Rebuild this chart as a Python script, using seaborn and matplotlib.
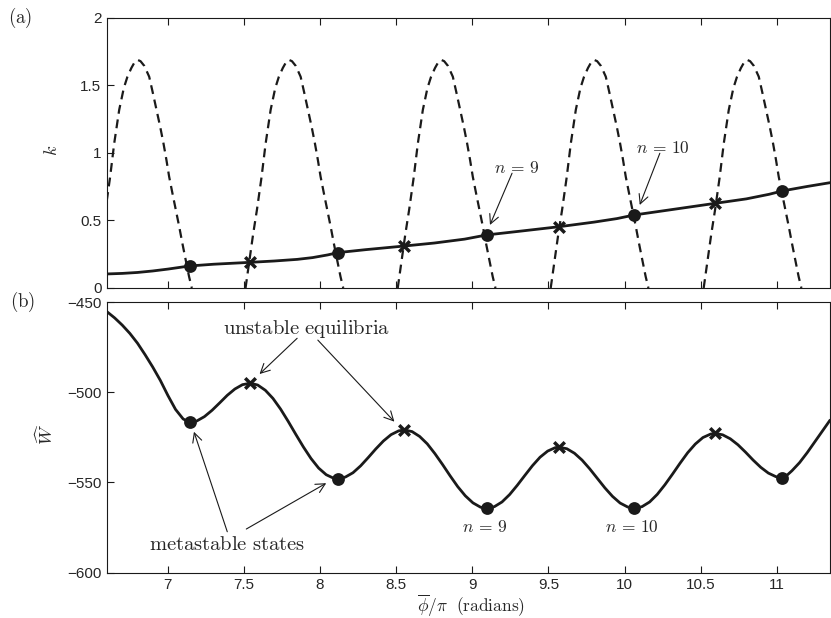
import numpy as np
import pandas as pd
import seaborn as sns
import matplotlib
matplotlib.use("Agg")
import matplotlib.pyplot as plt

# ---- data ----
# solid line, panel (a)
k_phi = [6.60, 6.70, 6.80, 6.90, 7.00, 7.142, 7.30, 7.541, 7.70, 7.85, 7.95, 8.05, 8.116, 8.30, 8.554,
         8.75, 8.95, 9.095, 9.30, 9.571, 9.80, 9.95, 10.065, 10.30, 10.595, 10.80, 10.95, 11.037, 11.20, 11.35]
k_val = [0.104, 0.108, 0.115, 0.126, 0.140, 0.163, 0.176, 0.190, 0.200, 0.212, 0.225, 0.245, 0.262, 0.284, 0.311,
         0.333, 0.362, 0.393, 0.419, 0.454, 0.488, 0.514, 0.541, 0.579, 0.627, 0.660, 0.694, 0.719, 0.752, 0.780]

# dashed arcs, panel (a): same k samples on every arc
arc_k = [0.0, 0.2, 0.4, 0.58, 0.82, 1.07, 1.32, 1.48, 1.565, 1.63, 1.67, 1.69, 1.68, 1.645,
         1.565, 1.45, 1.32, 1.19, 1.07, 0.95, 0.825, 0.70, 0.578, 0.45, 0.331, 0.19, 0.084, 0.0]
arc1_phi = [6.515, 6.54, 6.565, 6.59, 6.62, 6.647, 6.68, 6.71, 6.734, 6.76, 6.78, 6.80, 6.82, 6.845,
            6.877, 6.90, 6.925, 6.95, 6.971, 6.99, 7.008, 7.03, 7.052, 7.075, 7.095, 7.12, 7.139, 7.157]
arc2_phi = [7.51, 7.535, 7.56, 7.585, 7.615, 7.642, 7.675, 7.705, 7.729, 7.755, 7.775, 7.795, 7.815, 7.84,
            7.872, 7.895, 7.92, 7.945, 7.966, 7.985, 8.003, 8.025, 8.047, 8.07, 8.09, 8.115, 8.134, 8.152]
arc3_phi = [8.51, 8.535, 8.56, 8.585, 8.615, 8.642, 8.675, 8.705, 8.729, 8.755, 8.775, 8.795, 8.815, 8.84,
            8.872, 8.895, 8.92, 8.945, 8.966, 8.985, 9.003, 9.025, 9.047, 9.07, 9.09, 9.115, 9.134, 9.152]
arc4_phi = [9.515, 9.54, 9.565, 9.59, 9.62, 9.647, 9.68, 9.71, 9.734, 9.76, 9.78, 9.80, 9.82, 9.845,
            9.877, 9.90, 9.925, 9.95, 9.971, 9.99, 10.008, 10.03, 10.052, 10.075, 10.095, 10.12, 10.139, 10.157]
arc5_phi = [10.52, 10.545, 10.57, 10.595, 10.625, 10.652, 10.685, 10.715, 10.739, 10.765, 10.785, 10.805, 10.825, 10.85,
            10.882, 10.905, 10.93, 10.955, 10.976, 10.995, 11.013, 11.035, 11.057, 11.08, 11.10, 11.125, 11.144, 11.162]

# energy curve, panel (b)
w_phi = [6.60, 6.65, 6.70, 6.75, 6.80, 6.85, 6.90, 6.95, 7.00, 7.05, 7.10, 7.142,
         7.19, 7.24, 7.29, 7.34, 7.39, 7.44, 7.49, 7.541,
         7.59, 7.64, 7.69, 7.74, 7.79, 7.84, 7.89, 7.94, 7.99, 8.04, 8.09, 8.116,
         8.166, 8.216, 8.266, 8.316, 8.366, 8.416, 8.466, 8.516, 8.554,
         8.604, 8.654, 8.704, 8.754, 8.804, 8.854, 8.904, 8.954, 9.004, 9.054, 9.095,
         9.145, 9.195, 9.245, 9.295, 9.345, 9.395, 9.445, 9.495, 9.545, 9.571,
         9.621, 9.671, 9.721, 9.771, 9.821, 9.871, 9.921, 9.971, 10.021, 10.065,
         10.115, 10.165, 10.215, 10.265, 10.315, 10.365, 10.415, 10.465, 10.515, 10.565, 10.595,
         10.645, 10.695, 10.745, 10.795, 10.845, 10.895, 10.945, 10.995, 11.037,
         11.07, 11.10, 11.15, 11.20, 11.25, 11.30, 11.35]
w_val = [-455.4, -458.8, -462.8, -467.4, -472.8, -479.2, -486.0, -493.4, -501.8, -509.5, -514.8, -516.7,
         -515.9, -513.5, -510.0, -505.9, -501.7, -498.2, -495.8, -495.0,
         -496.0, -498.9, -503.4, -509.3, -516.1, -523.3, -530.3, -536.7, -542.0, -545.7, -547.7, -547.9,
         -547.0, -544.6, -540.8, -536.2, -531.4, -527.0, -523.5, -521.4, -520.9,
         -521.8, -524.5, -528.6, -534.0, -540.0, -546.3, -552.3, -557.4, -561.3, -563.7, -564.3,
         -563.4, -560.8, -556.7, -551.6, -546.1, -540.7, -536.0, -532.6, -530.7, -530.5,
         -531.3, -533.8, -537.6, -542.4, -547.7, -553.0, -557.7, -561.4, -563.6, -564.3,
         -563.4, -560.8, -556.6, -551.3, -545.4, -539.3, -533.5, -528.7, -525.1, -523.2, -522.8,
         -523.6, -525.8, -529.1, -533.2, -537.6, -541.6, -544.8, -546.8, -547.3,
         -545.8, -543.5, -539.0, -533.5, -527.5, -521.5, -515.5]

# equilibria
stable_phi = [7.142, 8.116, 9.095, 10.065, 11.037]
stable_k = [0.163, 0.262, 0.393, 0.541, 0.719]
stable_w = [-516.7, -547.9, -564.3, -564.3, -547.3]
unstable_phi = [7.541, 8.554, 9.571, 10.595]
unstable_k = [0.190, 0.311, 0.454, 0.627]
unstable_w = [-495.0, -520.9, -530.5, -522.8]

k_ticks = [0, 0.5, 1, 1.5, 2]
w_ticks = [-600, -550, -500, -450]
phi_ticks = [7, 7.5, 8, 8.5, 9, 9.5, 10, 10.5, 11]

# ---- style ----
sns.set_theme(style="white")
plt.rcParams["font.family"] = ["Liberation Sans", "DejaVu Sans"]
plt.rcParams["mathtext.fontset"] = "cm"

arcs = pd.DataFrame({
    "phi": arc1_phi + arc2_phi + arc3_phi + arc4_phi + arc5_phi,
    "k": arc_k * 5,
    "arc": np.repeat([1, 2, 3, 4, 5], len(arc_k)),
})

fig = plt.figure(figsize=(8.31, 6.18), dpi=100)
ax1 = fig.add_axes([0.1288, 0.5340, 0.8700, 0.4369])
ax2 = fig.add_axes([0.1288, 0.0733, 0.8700, 0.4380])

# panel (a)
sns.lineplot(data=arcs, x="phi", y="k", units="arc", estimator=None, sort=False,
             color="k", lw=1.6, linestyle=(0, (4, 2.6)), ax=ax1)
sns.lineplot(x=k_phi, y=k_val, color="k", lw=2.0, sort=False, ax=ax1)
sns.scatterplot(x=stable_phi, y=stable_k, marker="o", s=85, color="k", linewidth=0, zorder=5, ax=ax1)
sns.scatterplot(x=unstable_phi, y=unstable_k, marker="x", s=58, color="k", linewidth=2.5, zorder=5, ax=ax1)

# panel (b)
sns.lineplot(x=w_phi, y=w_val, color="k", lw=2.0, sort=False, ax=ax2)
sns.scatterplot(x=stable_phi, y=stable_w, marker="o", s=85, color="k", linewidth=0, zorder=5, ax=ax2)
sns.scatterplot(x=unstable_phi, y=unstable_w, marker="x", s=58, color="k", linewidth=2.5, zorder=5, ax=ax2)

for ax in (ax1, ax2):
    ax.set_xlim(6.6, 11.35)
    ax.set_xticks(phi_ticks)
    ax.set_xticklabels([f"{t:g}" for t in phi_ticks])
    for sp in ax.spines.values():
        sp.set_visible(True)
        sp.set_color("k")
        sp.set_linewidth(0.8)
    ax.tick_params(direction="in", length=5, width=0.8, color="k", labelsize=11,
                   top=True, bottom=True, left=True, right=False)
    ax.tick_params(axis="x", pad=4)
    ax.tick_params(axis="y", pad=4)
    ax.set_xlabel("")
    ax.set_ylabel("")

ax1.set_ylim(0, 2)
ax1.set_yticks(k_ticks)
ax1.set_yticklabels([f"{t:g}" for t in k_ticks])
ax1.tick_params(labelbottom=False)
ax1.set_ylabel(r"$k$", fontsize=13, rotation=90)
ax1.yaxis.set_label_coords(-0.064, 0.51)

ax2.set_ylim(-600, -450)
ax2.set_yticks(w_ticks)
ax2.set_ylabel(r"$\widehat{W}$", fontsize=13)
ax2.yaxis.set_label_coords(-0.069, 0.51)
ax2.set_xlabel(r"$\overline{\phi}/\pi\ \ \mathrm{(radians)}$", fontsize=12.5)
ax2.xaxis.set_label_coords(0.503, -0.074)

arrow = dict(arrowstyle="->,head_length=0.55,head_width=0.28", color="k", lw=0.8,
             shrinkA=0, shrinkB=0)

ax1.text(9.289, 0.889, r"$n\,=\,9$", fontsize=12.5, ha="center", va="center")
ax1.annotate("", xy=(9.116, 0.467), xytext=(9.261, 0.85), arrowprops=arrow)
ax1.text(10.25, 1.035, r"$n\,=\,10$", fontsize=12.5, ha="center", va="center")
ax1.annotate("", xy=(10.10, 0.615), xytext=(10.232, 0.998), arrowprops=arrow)

ax2.text(7.908, -465.1, r"$\mathrm{unstable\ equilibria}$", fontsize=14.8, ha="center", va="center")
ax2.annotate("", xy=(7.602, -489.9), xytext=(7.849, -470.1), arrowprops=arrow)
ax2.annotate("", xy=(8.488, -516.3), xytext=(7.985, -471.1), arrowprops=arrow)
ax2.text(7.39, -584.6, r"$\mathrm{metastable\ states}$", fontsize=14.8, ha="center", va="center")
ax2.annotate("", xy=(7.171, -521.9), xytext=(7.39, -577.3), arrowprops=arrow)
ax2.annotate("", xy=(8.04, -550.4), xytext=(7.515, -575.8), arrowprops=arrow)
ax2.text(9.079, -574.8, r"$n\,=\,9$", fontsize=12.5, ha="center", va="center")
ax2.text(10.048, -574.8, r"$n\,=\,10$", fontsize=12.5, ha="center", va="center")

fig.text(20 / 831, 1 - 18 / 618, r"$\mathrm{(a)}$", fontsize=13.5, ha="center", va="center")
fig.text(23 / 831, 1 - 302 / 618, r"$\mathrm{(b)}$", fontsize=13.5, ha="center", va="center")

fig.savefig("out.png", dpi=100)
